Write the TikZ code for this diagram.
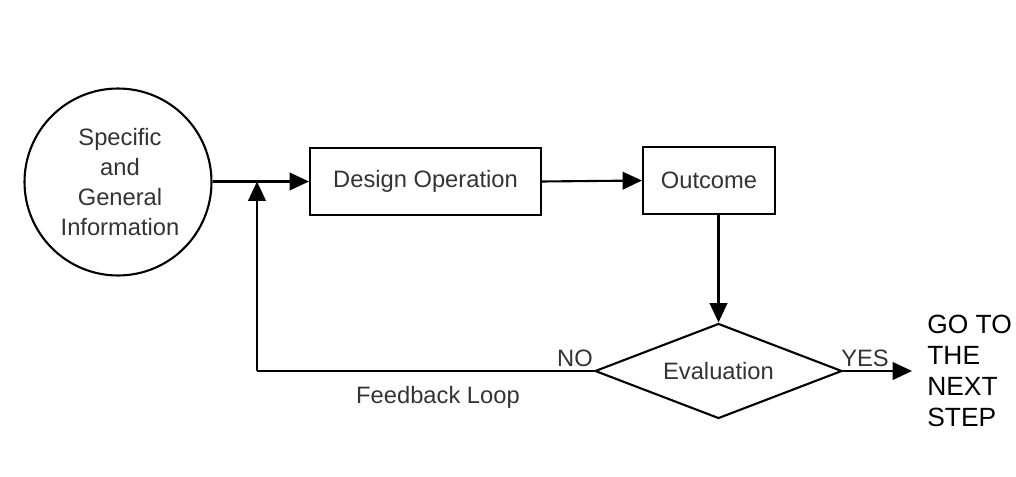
\documentclass[tikz,border=0pt]{standalone}
\usepackage{fontspec}
\setmainfont{Liberation Sans}
\usetikzlibrary{shapes.geometric,arrows.meta}
\begin{document}
\begin{tikzpicture}[x=0.02cm,y=-0.02cm,
  txt/.style={text=black!80,font=\fontsize{13.5}{17}\selectfont},
  boxnode/.style={draw=black,line width=1.2pt,inner sep=0pt,txt},
  conn/.style={line width=1.2pt,draw=black,-{Triangle[length=11pt,width=10pt]}},
  plain/.style={line width=1.2pt,draw=black}]
\useasboundingbox (0,0) rectangle (1016,476);
\node[boxnode,circle,minimum size=3.74cm] (info) at (118,182) {};
\node[txt,align=center] (infotext) at (120,182) {Specific\\and\\General\\Information};
\node[boxnode,minimum width=231*0.02cm,minimum height=67*0.02cm] (design) at (425.5,181.5) {Design Operation};
\node[boxnode,minimum width=132*0.02cm,minimum height=67*0.02cm] (outcome) at (709,180.5) {Outcome};
\node[boxnode,diamond,minimum width=247*0.02cm,minimum height=95*0.02cm,aspect=2.6] (eval) at (718.5,371) {Evaluation};
\coordinate (join) at (257,181.5);
\coordinate (corner) at (257,371);
\coordinate (goend) at (912,371);
\node[anchor=west,align=left,inner sep=0pt,text=black,font=\fontsize{15}{17.6}\selectfont] (next) at (927,371) {GO TO\\THE\\NEXT\\STEP};
\draw[conn] (info.east |- design.west) -- (design.west);
\draw[conn] (design.east) -- (outcome.west);
\draw[conn] (eval.north |- outcome.south) -- (eval.north);
\draw[conn] (eval.east) -- (goend);
\draw[plain] (eval.west) -- (corner);
\draw[conn] (corner) -- (join);
\node[txt] (no) at (575,358) {NO};
\node[txt] (yes) at (865,358) {YES};
\node[txt] (fb) at (438,397) {Feedback Loop};
\end{tikzpicture}
\end{document}
